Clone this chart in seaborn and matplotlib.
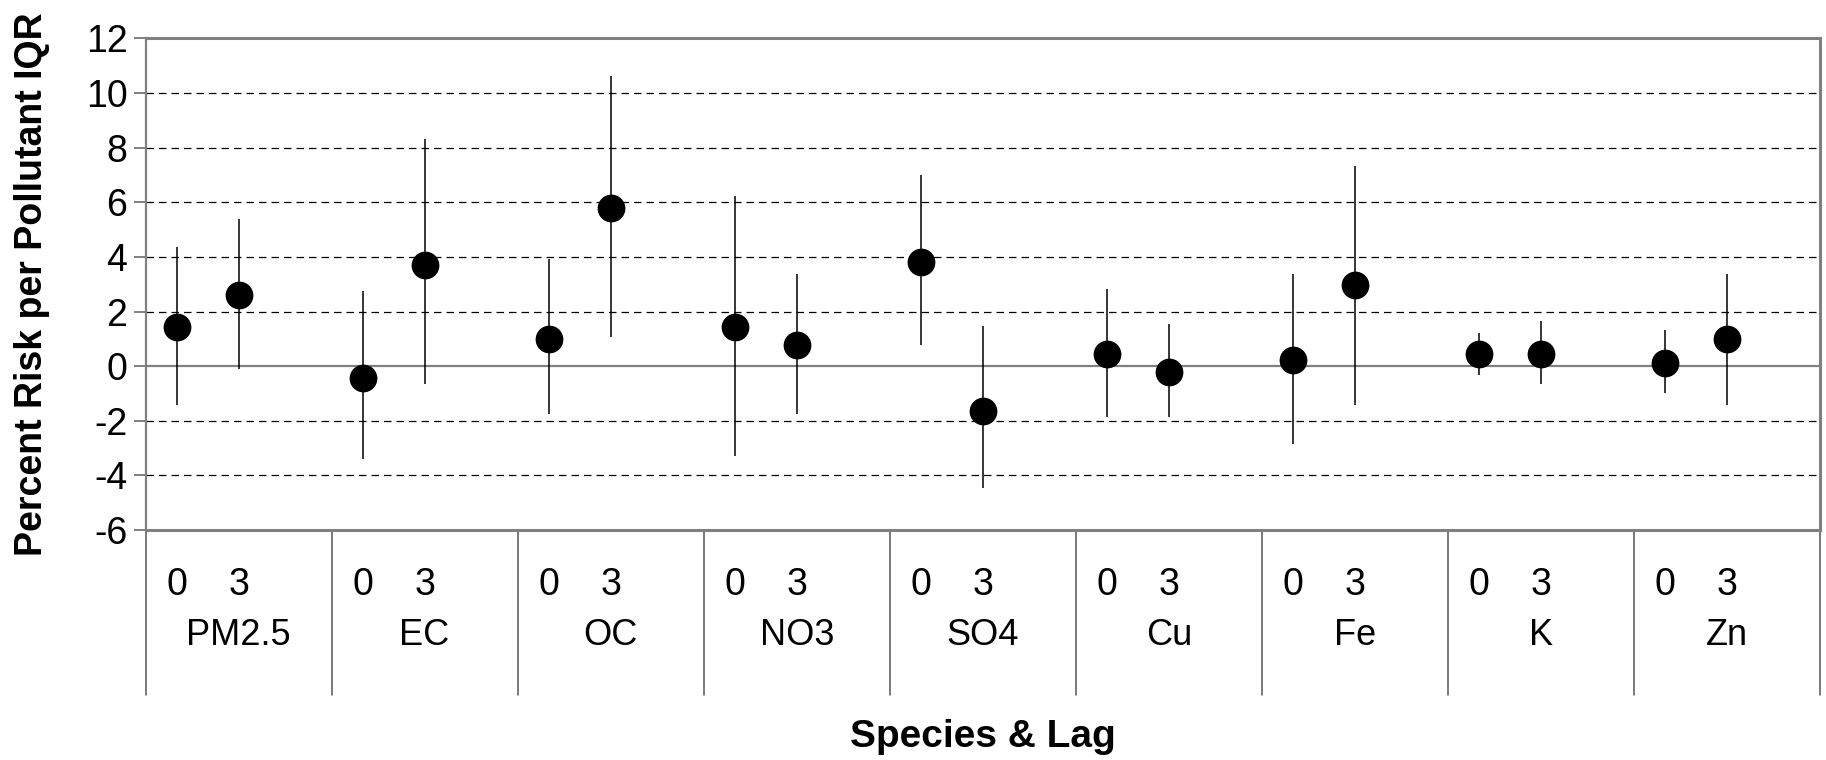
import matplotlib
matplotlib.use("Agg")
import matplotlib.pyplot as plt
import matplotlib.transforms as mtransforms
import seaborn as sns
import pandas as pd
import numpy as np

species = ["PM2.5", "EC", "OC", "NO3", "SO4", "Cu", "Fe", "K", "Zn"]
lags = ["0", "3"]
estimate_lag0 = [1.42, -0.43, 0.99, 1.42, 3.83, 0.44, 0.22, 0.44, 0.12]
lower_lag0 = [-1.42, -3.39, -1.75, -3.30, 0.77, -1.86, -2.84, -0.34, -0.99]
upper_lag0 = [4.37, 2.74, 3.94, 6.23, 7.00, 2.84, 3.39, 1.20, 1.32]
estimate_lag3 = [2.62, 3.72, 5.79, 0.77, -1.63, -0.21, 2.96, 0.44, 0.99]
lower_lag3 = [-0.10, -0.66, 1.07, -1.75, -4.47, -1.86, -1.42, -0.66, -1.42]
upper_lag3 = [5.37, 8.31, 10.61, 3.39, 1.47, 1.54, 7.33, 1.64, 3.39]
yticks = [-6, -4, -2, 0, 2, 4, 6, 8, 10, 12]

sns.set_theme(style="white")
plt.rcParams['font.family'] = ['Liberation Sans', 'DejaVu Sans']
plt.rcParams['text.color'] = 'black'
plt.rcParams['axes.labelcolor'] = 'black'
plt.rcParams['ytick.labelcolor'] = 'black'

rows = []
for gi, sp in enumerate(species):
    for li, (est, lo, hi) in enumerate([(estimate_lag0[gi], lower_lag0[gi], upper_lag0[gi]),
                                         (estimate_lag3[gi], lower_lag3[gi], upper_lag3[gi])]):
        rows.append(dict(species=sp, lag=lags[li], pos=gi * 3 + li, est=est, lo=lo, hi=hi))
df = pd.DataFrame(rows)

fig = plt.figure(figsize=(18.26, 7.6), dpi=100)
ax = fig.add_axes([0.0797, 0.3026, 0.9170, 0.6469])

ax.set_xlim(-0.5, len(species) * 3 - 0.5)
ax.set_ylim(-6, 12)
ax.set_yticks(yticks)
ax.set_yticklabels([str(t) for t in yticks], fontsize=27, color="black")
ax.set_xticks([])

# grid
for t in yticks:
    if t in (-6, 12):
        continue
    if t == 0:
        ax.axhline(0, color="#808080", lw=1.6, zorder=1)
    else:
        ax.axhline(t, color="black", lw=0.9, ls=(0, (6, 4)), zorder=1)

ax.vlines(df["pos"], df["lo"], df["hi"], color="black", lw=1.1, zorder=2)
sns.scatterplot(data=df, x="pos", y="est", ax=ax, color="black", s=400,
                edgecolor="black", linewidth=0, zorder=3, legend=False)
ax.set_xlabel("")
ax.set_ylabel("Percent Risk per Pollutant IQR", fontsize=27, fontweight="bold",
              color="black")
ax.yaxis.set_label_coords(-0.057, 0.5)

for side in ["top", "right", "bottom"]:
    ax.spines[side].set_color("#808080")
    ax.spines[side].set_linewidth(2.2)
ax.spines["left"].set_color("#808080")
ax.spines["left"].set_linewidth(1.6)
ax.tick_params(axis="y", which="major", direction="out", length=9, width=1.4,
               color="#808080", left=True, pad=4)

trans = mtransforms.blended_transform_factory(ax.transData, ax.transAxes)
for gi in range(len(species) + 1):
    ax.plot([gi * 3 - 0.5] * 2, [0, -0.336], transform=trans, color="#555555",
            lw=1.1, clip_on=False)
for _, r in df.iterrows():
    ax.text(r["pos"], -0.112, r["lag"], transform=trans, ha="center", va="center",
            fontsize=27, color="black")
for gi, sp in enumerate(species):
    ax.text(gi * 3 + 1, -0.214, sp, transform=trans, ha="center", va="center",
            fontsize=26, color="black")
ax.text(0.5, -0.42, "Species & Lag", transform=ax.transAxes, ha="center",
        va="center", fontsize=28, fontweight="bold", color="black")

fig.savefig("out.png", dpi=100)
